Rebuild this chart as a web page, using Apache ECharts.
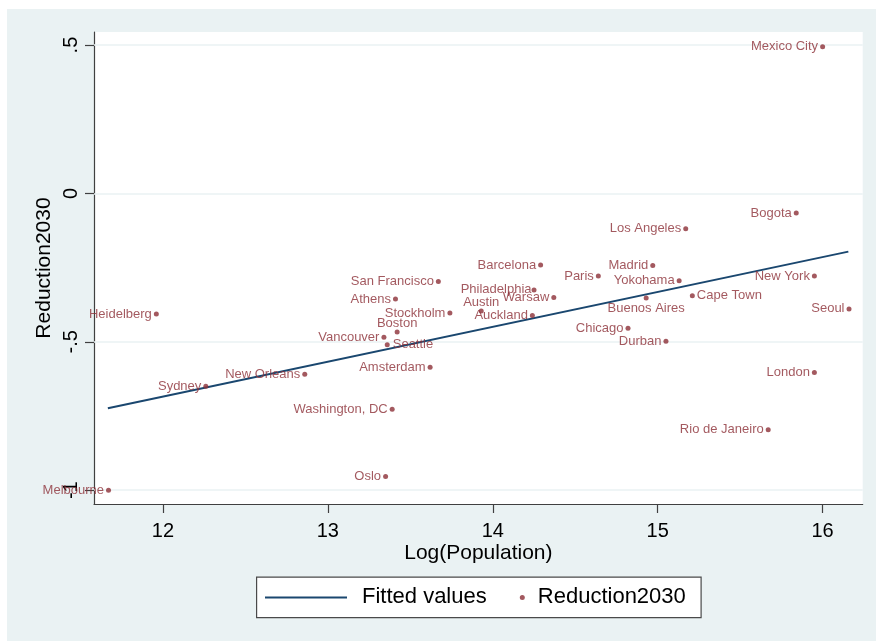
<!DOCTYPE html>
<html>
<head>
<meta charset="utf-8">
<script src="https://cdn.jsdelivr.net/npm/echarts@6/dist/echarts.min.js"></script>
<style>
  html, body { margin: 0; padding: 0; background: #ffffff; }
  #chart { width: 876px; height: 641px; }
</style>
</head>
<body>
<div id="chart"></div>
<script>
// City emission reduction targets for 2030 against log population
const cities = [
  'Mexico City', 'Bogota', 'Los Angeles', 'Barcelona', 'Madrid', 'Paris',
  'Yokohama', 'New York', 'San Francisco', 'Philadelphia', 'Warsaw', 'Cape Town',
  'Athens', 'Buenos Aires', 'Austin', 'Stockholm', 'Heidelberg', 'Seoul',
  'Auckland', 'Boston', 'Chicago', 'Vancouver', 'Durban', 'Seattle',
  'Amsterdam', 'New Orleans', 'London', 'Sydney', 'Washington, DC',
  'Rio de Janeiro', 'Oslo', 'Melbourne'
];
const logPopulation = [
  16.00, 15.84, 15.17, 14.29, 14.97, 14.64,
  15.13, 15.95, 13.67, 14.25, 14.37, 15.21,
  13.41, 14.93, 13.93, 13.74, 11.96, 16.16,
  14.24, 13.42, 14.82, 13.34, 15.05, 13.36,
  13.62, 12.86, 15.95, 12.26, 13.39,
  15.67, 13.35, 11.67
];
const reduction2030 = [
  0.494, -0.066, -0.119, -0.241, -0.243, -0.278,
  -0.294, -0.278, -0.297, -0.325, -0.351, -0.345,
  -0.356, -0.352, -0.396, -0.403, -0.406, -0.389,
  -0.411, -0.467, -0.454, -0.485, -0.498, -0.510,
  -0.586, -0.609, -0.603, -0.650, -0.727,
  -0.796, -0.954, -1.000
];

// Linear fit: values at the smallest and largest log population
const fittedX = [11.666, 16.156];
const fittedY = [-0.724, -0.196];

// Axis ticks and their printed labels
const xTicks = [12, 13, 14, 15, 16];
const yTicks = [-1, -0.5, 0, 0.5];
const yTickLabels = ['-1', '-.5', '0', '.5'];

const seriesNames = ['Fitted values', 'Reduction2030'];

// Marker label placement (default is to the left of the marker)
const labelPlacement = {
  'Philadelphia': { position: 'left', distance: 0, offset: [0, -8] },
  'Austin': { position: 'top', distance: 0 },
  'Boston': { position: 'top', distance: 0 },
  'Buenos Aires': { position: 'bottom', distance: 2 },
  'Cape Town': { position: 'right', distance: 2 },
  'Seattle': { position: 'right', distance: 3, offset: [0, 1] }
};

const FONT = '"Liberation Sans", Arial, Helvetica, sans-serif';
const MAROON = '#8c2f37';
const NAVY = '#1a476f';
const AXIS_GRAY = '#404040';

const scatterData = cities.map((name, i) => {
  const item = { name: name, value: [logPopulation[i], reduction2030[i]] };
  if (labelPlacement[name]) item.label = labelPlacement[name];
  return item;
});

const chart = echarts.init(document.getElementById('chart'), null, { renderer: 'canvas' });

chart.setOption({
  animation: false,
  backgroundColor: '#eaf2f3',
  textStyle: { fontFamily: FONT },
  graphic: [
    // thin white frame on the top and left edges
    { type: 'rect', left: 0, top: 0, shape: { width: 876, height: 9 }, style: { fill: '#ffffff' }, silent: true },
    { type: 'rect', left: 0, top: 0, shape: { width: 7, height: 641 }, style: { fill: '#ffffff' }, silent: true },
    // legend frame
    {
      type: 'rect', left: 256, top: 576.5, z: 0,
      shape: { width: 444.5, height: 40.5 },
      style: { fill: '#ffffff', stroke: '#4a4a4a', lineWidth: 1.2 },
      silent: true
    }
  ],
  grid: {
    left: 94, right: 13.3, top: 32, bottom: 137,
    show: true, backgroundColor: '#ffffff', borderWidth: 0
  },
  xAxis: {
    type: 'value',
    min: 11.582, max: 16.243,
    name: 'Log(Population)',
    nameLocation: 'middle',
    nameGap: 38.5,
    nameMoveOverlap: false,
    nameTextStyle: { fontSize: 21, color: '#000', fontFamily: FONT },
    axisLine: { show: true, onZero: false, lineStyle: { color: AXIS_GRAY, width: 1.2 } },
    axisTick: { show: true, length: 9, customValues: xTicks, lineStyle: { color: AXIS_GRAY, width: 1.2 } },
    axisLabel: {
      customValues: xTicks, fontSize: 20, color: '#000', margin: 17, fontFamily: FONT,
      formatter: v => String(v)
    },
    splitLine: { show: false }
  },
  yAxis: {
    type: 'value',
    min: -1.0465, max: 0.544,
    name: 'Reduction2030',
    nameLocation: 'middle',
    nameGap: 39,
    nameMoveOverlap: false,
    nameTextStyle: { fontSize: 21, color: '#000', fontFamily: FONT },
    axisLine: { show: true, onZero: false, lineStyle: { color: AXIS_GRAY, width: 1.2 } },
    axisTick: { show: true, length: 9, customValues: yTicks, lineStyle: { color: AXIS_GRAY, width: 1.2 } },
    axisLabel: {
      customValues: yTicks, fontSize: 20, color: '#000', margin: 13, rotate: 90, fontFamily: FONT,
      formatter: v => yTickLabels[yTicks.indexOf(Math.round(v * 100) / 100)]
    },
    splitLine: { show: false }
  },
  legend: [
    {
      data: [{ name: seriesNames[0], icon: 'rect' }],
      left: 265, top: 586.4, padding: 0,
      itemWidth: 82, itemHeight: 2,
      textStyle: { fontSize: 22, color: '#000', fontFamily: FONT, padding: [0, 0, 0, 10] },
      selectedMode: false
    },
    {
      data: [seriesNames[1]],
      left: 519.8, top: 586.4, padding: 0,
      itemWidth: 5, itemHeight: 5,
      textStyle: { fontSize: 22, color: '#000', fontFamily: FONT, padding: [0, 0, 0, 8] },
      selectedMode: false
    }
  ],
  series: [
    {
      name: seriesNames[0],
      type: 'line',
      data: fittedX.map((x, i) => [x, fittedY[i]]),
      symbol: 'none',
      showSymbol: false,
      z: 3,
      lineStyle: { color: NAVY, width: 2 },
      itemStyle: { color: NAVY },
      markLine: {
        silent: true,
        symbol: 'none',
        z: 1,
        label: { show: false },
        lineStyle: { color: '#eaf2f3', width: 1.5, type: 'solid' },
        emphasis: { disabled: true },
        data: yTicks.map(v => ({ yAxis: v }))
      }
    },
    {
      name: seriesNames[1],
      type: 'scatter',
      data: scatterData,
      symbol: 'circle',
      symbolSize: 5,
      z: 4,
      itemStyle: { color: MAROON },
      label: {
        show: true,
        position: 'left',
        distance: 2,
        formatter: p => p.name,
        color: MAROON,
        fontSize: 13,
        fontFamily: FONT
      },
      labelLayout: { hideOverlap: false },
      emphasis: { disabled: true }
    }
  ]
});
</script>
</body>
</html>
